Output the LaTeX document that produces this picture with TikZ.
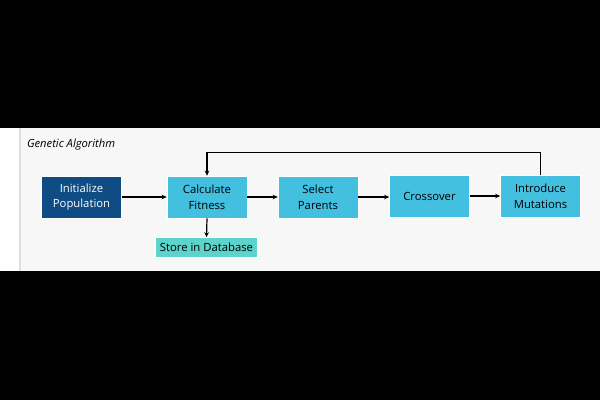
\documentclass[tikz,border=0pt]{standalone}
\usepackage{fontspec}
\setmainfont{Open Sans}
\usetikzlibrary{arrows.meta}
\definecolor{darkblue}{HTML}{0F4C84}
\definecolor{cyanbox}{HTML}{43BFDF}
\definecolor{tealbox}{HTML}{5CD3CB}
\definecolor{panel}{HTML}{F7F7F7}
\definecolor{sepline}{HTML}{DEDEDE}
\tikzset{
  procbox/.style={draw=white, line width=0.6pt, fill=cyanbox, text=black, align=center,
    minimum width=80pt, minimum height=42pt, inner sep=0pt, font=\fontsize{11.3}{15.7}\selectfont},
  initbox/.style={procbox, fill=darkblue, text=white},
  storebox/.style={draw=white, line width=0.6pt, fill=tealbox, text=black, align=center,
    minimum width=102pt, minimum height=20pt, inner sep=0pt, font=\fontsize{11.3}{14}\selectfont},
  flow/.style={line width=1.2pt, -{Stealth[length=5pt,width=4.5pt]}}
}
\begin{document}
\begin{tikzpicture}[x=1pt,y=-1pt]
\useasboundingbox (0,0) rectangle (600,400);
\fill[black] (0,0) rectangle (600,400);
\fill[white] (0,128) rectangle (600,270.5);
\fill[panel] (20,128) rectangle (600,270.5);
\draw[sepline, line width=1.2pt] (20,128) -- (20,270.5);
\node[anchor=west, font=\itshape\fontsize{11.2}{13}\selectfont] (title) at (23.5,145) {Genetic Algorithm};
\node[initbox] (init) at (81.5,197) {Initialize\\Population};
\node[procbox] (calc) at (207,197) {Calculate\\Fitness};
\node[procbox] (sel) at (318,197) {Select\\Parents};
\node[procbox] (cross) at (429.5,196) {Crossover};
\node[procbox] (mut) at (540.5,196) {Introduce\\Mutations};
\node[storebox] (store) at (206.5,247.5) {Store in Database};
\coordinate (top) at (0,152.5);
\draw[flow] (init.east |- 0,197) -- (calc.west |- 0,197);
\draw[flow] (calc.east) -- (sel.west);
\draw[flow] (sel.east) -- (cross.west |- sel.east);
\draw[flow] (cross.east) -- (mut.west);
\draw[flow] (calc.south) -- (store.north);
\draw[flow] (mut.north) -- (mut.north |- top) -- (calc.north |- top) -- (calc.north);
\end{tikzpicture}
\end{document}
